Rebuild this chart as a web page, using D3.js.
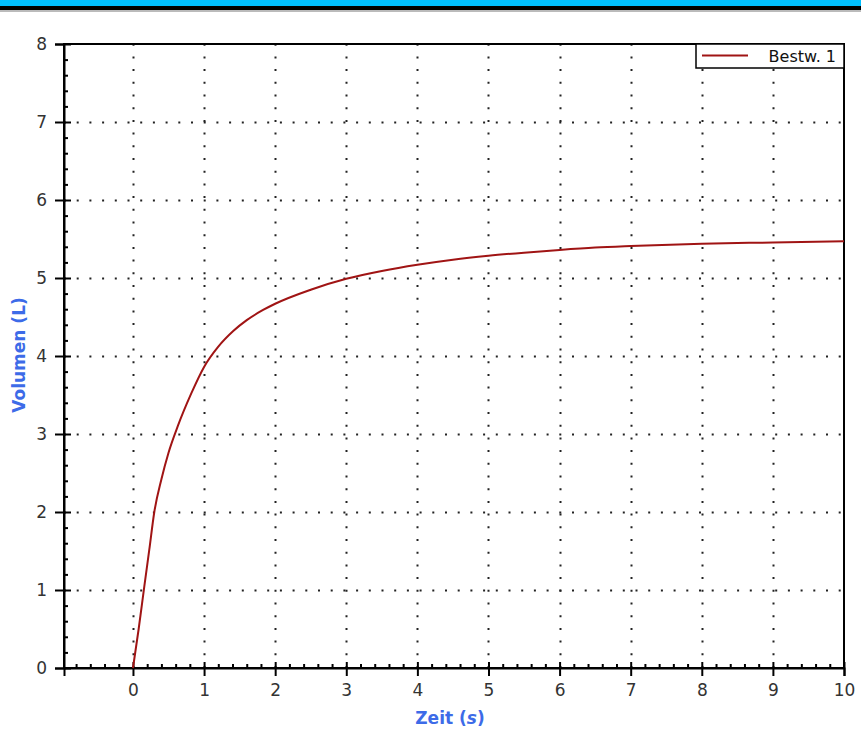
<!DOCTYPE html>
<html>
<head>
<meta charset="utf-8">
<script src="https://cdn.jsdelivr.net/npm/d3@7"></script>
<style>
  body { margin: 0; background: #fff; }
  svg { display: block; }
</style>
</head>
<body>
<div id="chart"></div>
<script>
// Zeit (s) / Volumen (L)
var zeit    = [0, 0.08, 0.16, 0.23, 0.3, 0.4, 0.5, 0.63, 0.82, 1, 1.2, 1.41, 1.6, 1.83, 2, 2.5, 3, 3.5, 4, 4.5, 5, 5.5, 6, 6.5, 7, 8, 9, 10];
var volumen = [0, 0.5, 1.05, 1.52, 2.0, 2.42, 2.76, 3.1, 3.52, 3.86, 4.12, 4.32, 4.46, 4.59, 4.67, 4.85, 4.99, 5.09, 5.17, 5.235, 5.285, 5.325, 5.36, 5.39, 5.41, 5.44, 5.455, 5.47];

var xTicks = [0, 1, 2, 3, 4, 5, 6, 7, 8, 9, 10];
var yTicks = [0, 1, 2, 3, 4, 5, 6, 7, 8];
var seriesName = "Bestw. 1";

var width = 861, height = 739;
var margin = {top: 44, right: 17, bottom: 71, left: 64};

var svg = d3.select("#chart").append("svg")
    .attr("width", width)
    .attr("height", height);

// window title strip
svg.append("rect").attr("x", 0).attr("y", 0).attr("width", width).attr("height", 6).attr("fill", "#00bfff");
svg.append("rect").attr("x", 0).attr("y", 6).attr("width", width).attr("height", 4).attr("fill", "#000");
svg.append("rect").attr("x", 0).attr("y", 10).attr("width", width).attr("height", 2).attr("fill", "#bbb");

var x = d3.scaleLinear().domain([-0.97, 10]).range([margin.left, width - margin.right]);
var y = d3.scaleLinear().domain([0, 8]).range([height - margin.bottom, margin.top]);

var minorX = d3.range(-4, 50).map(function(i){ return i / 5; }).filter(function(v){ return v > -0.97 && Math.abs(v - Math.round(v)) > 1e-6; });
var minorY = d3.range(0, 40).map(function(i){ return i / 5; }).filter(function(v){ return Math.abs(v - Math.round(v)) > 1e-6; });

// dotted grid
var grid = svg.append("g").attr("stroke", "#222").attr("stroke-width", 2).attr("stroke-dasharray", "2,10.7");
grid.selectAll(".gx").data(xTicks.slice(0, -1)).enter().append("line")
    .attr("x1", function(d){ return Math.round(x(d)) + 0.5; })
    .attr("x2", function(d){ return Math.round(x(d)) + 0.5; })
    .attr("y1", y(0)).attr("y2", y(8));
grid.selectAll(".gy").data(yTicks.slice(1, -1)).enter().append("line")
    .attr("y1", function(d){ return Math.round(y(d)) + 0.5; })
    .attr("y2", function(d){ return Math.round(y(d)) + 0.5; })
    .attr("x1", x(-0.97)).attr("x2", x(10));

// frame
svg.append("rect")
    .attr("x", x(-0.97)).attr("y", y(8))
    .attr("width", x(10) - x(-0.97)).attr("height", y(0) - y(8))
    .attr("fill", "none").attr("stroke", "#000").attr("stroke-width", 2);

// axes
var xAxis = svg.append("g").attr("transform", "translate(0," + y(0) + ")")
    .call(d3.axisBottom(x).tickValues(xTicks).tickFormat(d3.format("d")).tickSizeInner(8).tickSizeOuter(8).tickPadding(8));
xAxis.selectAll(".tick line").attr("y1", -6);
svg.append("g").attr("transform", "translate(0," + y(0) + ")")
    .call(d3.axisBottom(x).tickValues(minorX).tickFormat("").tickSize(-4).tickSizeOuter(0))
    .select(".domain").remove();

var yAxis = svg.append("g").attr("transform", "translate(" + x(-0.97) + ",0)")
    .call(d3.axisLeft(y).tickValues(yTicks).tickFormat(d3.format("d")).tickSizeInner(9).tickSizeOuter(9).tickPadding(8));
yAxis.selectAll(".tick line").attr("x1", 7);
svg.append("g").attr("transform", "translate(" + x(-0.97) + ",0)")
    .call(d3.axisLeft(y).tickValues(minorY).tickFormat("").tickSize(-4).tickSizeOuter(0))
    .select(".domain").remove();

svg.selectAll(".domain").attr("stroke-width", 2);
svg.selectAll(".tick line").attr("stroke-width", 2);
svg.selectAll(".tick text")
    .attr("font-family", "'DejaVu Sans', sans-serif")
    .attr("font-size", 17)
    .attr("fill", "#333");

// axis titles
svg.append("text")
    .attr("x", 450).attr("y", 724)
    .attr("text-anchor", "middle")
    .attr("font-family", "'DejaVu Sans', sans-serif")
    .attr("font-weight", "bold").attr("font-size", 17)
    .attr("fill", "#3d6be8")
    .text("Zeit (")
    .append("tspan").attr("font-style", "italic").text("s")
    .select(function(){ return this.parentNode; })
    .append("tspan").text(")");

svg.append("text")
    .attr("transform", "translate(25,355) rotate(-90)")
    .attr("text-anchor", "middle")
    .attr("font-family", "'DejaVu Sans', sans-serif")
    .attr("font-weight", "bold").attr("font-size", 17)
    .attr("fill", "#3d6be8")
    .text("Volumen (L)");

// curve
var line = d3.line()
    .x(function(d, i){ return x(zeit[i]); })
    .y(function(d){ return y(d); })
    .curve(d3.curveMonotoneX);

svg.append("path")
    .datum(volumen)
    .attr("d", line)
    .attr("fill", "none")
    .attr("stroke", "#a01414")
    .attr("stroke-width", 2);

// legend
var legend = svg.append("g").attr("transform", "translate(" + (x(10) - 148) + "," + y(8) + ")");
legend.append("rect").attr("width", 148).attr("height", 24)
    .attr("fill", "#fff").attr("stroke", "#000").attr("stroke-width", 1.5);
legend.append("line").attr("x1", 6).attr("x2", 52).attr("y1", 11.5).attr("y2", 11.5)
    .attr("stroke", "#a01414").attr("stroke-width", 2);
legend.append("text").attr("x", 140).attr("y", 18)
    .attr("text-anchor", "end")
    .attr("font-family", "'DejaVu Sans', sans-serif")
    .attr("font-size", 16).attr("fill", "#111")
    .text(seriesName);
</script>
</body>
</html>
